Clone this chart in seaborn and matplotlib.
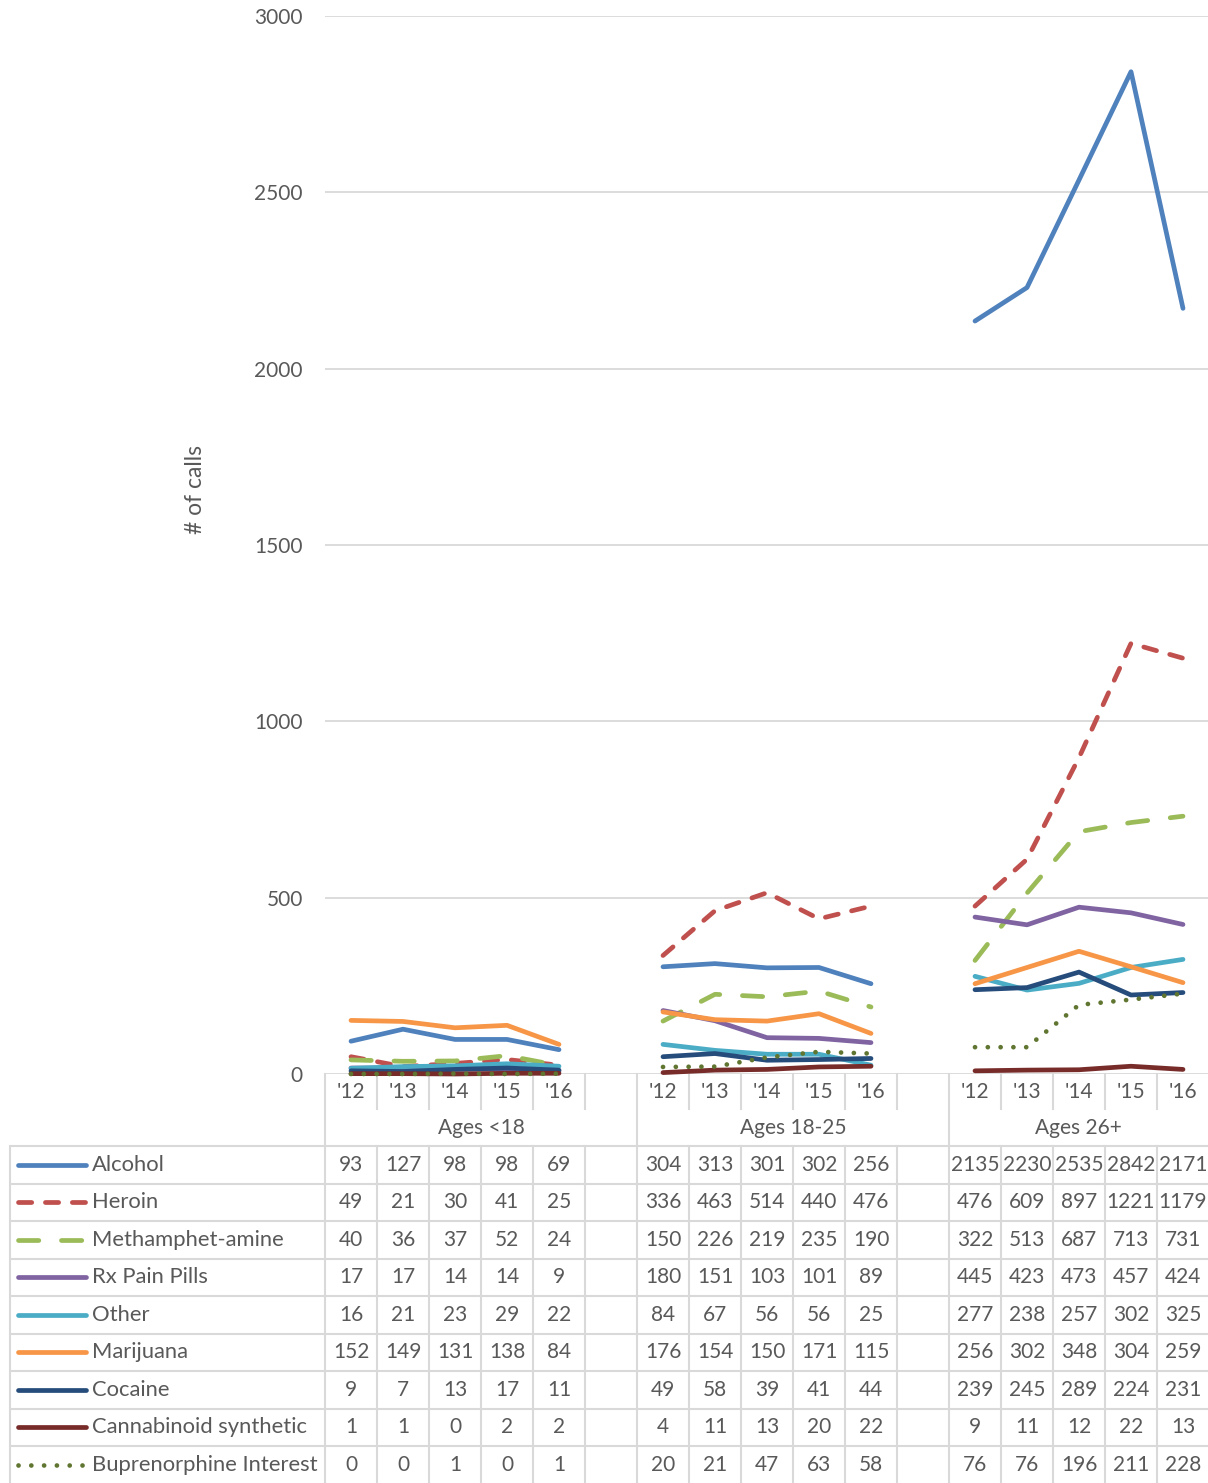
import numpy as np
import pandas as pd
import matplotlib
matplotlib.use("Agg")
import matplotlib.pyplot as plt
import seaborn as sns
from matplotlib.transforms import blended_transform_factory
from matplotlib.lines import Line2D

# ---------------- data ----------------
years = ["'12", "'13", "'14", "'15", "'16"]
groups = ["Ages <18", "Ages 18-25", "Ages 26+"]
series_names = ["Alcohol", "Heroin", "Methamphet-amine", "Rx Pain Pills", "Other",
                "Marijuana", "Cocaine", "Cannabinoid synthetic", "Buprenorphine Interest"]

alcohol = [93, 127, 98, 98, 69, 304, 313, 301, 302, 256, 2135, 2230, 2535, 2842, 2171]
heroin = [49, 21, 30, 41, 25, 336, 463, 514, 440, 476, 476, 609, 897, 1221, 1179]
meth = [40, 36, 37, 52, 24, 150, 226, 219, 235, 190, 322, 513, 687, 713, 731]
rx_pain = [17, 17, 14, 14, 9, 180, 151, 103, 101, 89, 445, 423, 473, 457, 424]
other = [16, 21, 23, 29, 22, 84, 67, 56, 56, 25, 277, 238, 257, 302, 325]
marijuana = [152, 149, 131, 138, 84, 176, 154, 150, 171, 115, 256, 302, 348, 304, 259]
cocaine = [9, 7, 13, 17, 11, 49, 58, 39, 41, 44, 239, 245, 289, 224, 231]
cannabinoid = [1, 1, 0, 2, 2, 4, 11, 13, 20, 22, 9, 11, 12, 22, 13]
buprenorphine = [0, 0, 1, 0, 1, 20, 21, 47, 63, 58, 76, 76, 196, 211, 228]

values = [alcohol, heroin, meth, rx_pain, other, marijuana, cocaine, cannabinoid, buprenorphine]

colors = {
    "Alcohol": "#4F81BD",
    "Heroin": "#C0504D",
    "Methamphet-amine": "#9BBB59",
    "Rx Pain Pills": "#8064A2",
    "Other": "#4BACC6",
    "Marijuana": "#F79646",
    "Cocaine": "#254C7B",
    "Cannabinoid synthetic": "#772C2A",
    "Buprenorphine Interest": "#5F7530",
}
dash_map = {
    "Alcohol": "",
    "Heroin": (2.8, 2.9),
    "Methamphet-amine": (4.3, 4.8),
    "Rx Pain Pills": "",
    "Other": "",
    "Marijuana": "",
    "Cocaine": "",
    "Cannabinoid synthetic": "",
    "Buprenorphine Interest": (0.01, 2.7),
}

# long-format frame; each age group occupies 6 slots (5 years + gap)
rows = []
for name, vals in zip(series_names, values):
    for g in range(len(groups)):
        for j in range(len(years)):
            rows.append({"series": name, "group": g, "pos": g * 6 + j,
                         "value": vals[g * 5 + j]})
df = pd.DataFrame(rows)

# ---------------- figure ----------------
W, H = 1208, 1483
plt.rcParams["font.family"] = ["Lato", "DejaVu Sans"]
text_color = "#595959"
grid_color = "#D9D9D9"
fs = 15
fs_label = 15.8
lw_series = 3.4

fig = plt.figure(figsize=(W / 100, H / 100), dpi=100)
ax_left, ax_right, ax_top, ax_bot = 325, 1208, 16, 1074
ax = fig.add_axes([ax_left / W, 1 - ax_bot / H, (ax_right - ax_left) / W, (ax_bot - ax_top) / H])

sns.lineplot(data=df, x="pos", y="value", hue="series", style="series", units="group",
             estimator=None, sort=False, hue_order=series_names, style_order=series_names,
             palette=colors, dashes=dash_map, linewidth=lw_series, legend=False, ax=ax)
for ln in ax.lines:
    ln.set_clip_on(False)
    ln.set_dash_capstyle("round")
    ln.set_solid_capstyle("round")
    ln.set_solid_joinstyle("round")

slot_px = 52.0
xmax = -0.5 + (ax_right - ax_left) / slot_px
ax.set_xlim(-0.5, xmax)
ax.set_ylim(0, 3000)
ax.set_yticks(np.arange(0, 3001, 500))
ax.set_xticks([])
ax.set_xlabel("")
ax.set_ylabel("# of calls", color=text_color, fontsize=16.5)
ax.yaxis.set_label_coords(-0.135, 0.552)
ax.tick_params(axis="y", length=0, pad=16, labelcolor=text_color, labelsize=fs)
ax.grid(axis="y", color=grid_color, linewidth=1.3)
ax.set_axisbelow(True)
for s in ax.spines.values():
    s.set_visible(False)
ax.patch.set_visible(False)

# ---------------- data table ----------------
tab = fig.add_axes([0, 0, 1, 1], zorder=-1)
tab.set_xlim(0, W)
tab.set_ylim(H, 0)
tab.axis("off")
tr = blended_transform_factory(ax.transData, tab.transData)

lw_tab = 1.5
row_top = 1146
row_h = 37.5
tick_row_bot = 1109
table_left = 10
n_rows = len(series_names)

# horizontal lines
for k in range(n_rows):
    y = row_top + k * row_h
    tab.plot([table_left, W], [y, y], color=grid_color, lw=lw_tab, solid_capstyle="butt")
tab.plot([table_left, table_left], [row_top, H], color=grid_color, lw=lw_tab)

# vertical lines at slot boundaries
n_slots = 6 * len(groups)
for k in range(n_slots):
    b = -0.5 + k
    if b > xmax:
        break
    if k % 6 == 0:
        tab.plot([b, b], [ax_bot, H], color=grid_color, lw=lw_tab, transform=tr)
    else:
        tab.plot([b, b], [ax_bot, tick_row_bot], color=grid_color, lw=lw_tab, transform=tr)
        tab.plot([b, b], [row_top, H], color=grid_color, lw=lw_tab, transform=tr)

# year and group labels
for g, gname in enumerate(groups):
    for j, yr in enumerate(years):
        tab.text(g * 6 + j, 1092, yr, transform=tr, ha="center", va="center",
                 color=text_color, fontsize=fs)
    left = g * 6 - 0.5
    right = min(g * 6 + 5.5, xmax)
    tab.text((left + right) / 2, 1128, gname, transform=tr, ha="center", va="center",
             color=text_color, fontsize=fs)

# rows: legend key, name, values
for r, (name, vals) in enumerate(zip(series_names, values)):
    yc = row_top + row_h * (r + 0.5)
    d = dash_map[name]
    key = Line2D([18, 86], [yc, yc], color=colors[name], lw=lw_series,
                 solid_capstyle="round", dash_capstyle="round")
    if d != "":
        key.set_dashes(d)
    tab.add_line(key)
    tab.text(92, yc, name, ha="left", va="center", color=text_color, fontsize=fs_label)
    for g in range(len(groups)):
        for j in range(len(years)):
            tab.text(g * 6 + j, yc, str(vals[g * 5 + j]), transform=tr, ha="center",
                     va="center", color=text_color, fontsize=fs)

fig.savefig("out.png", dpi=100)
